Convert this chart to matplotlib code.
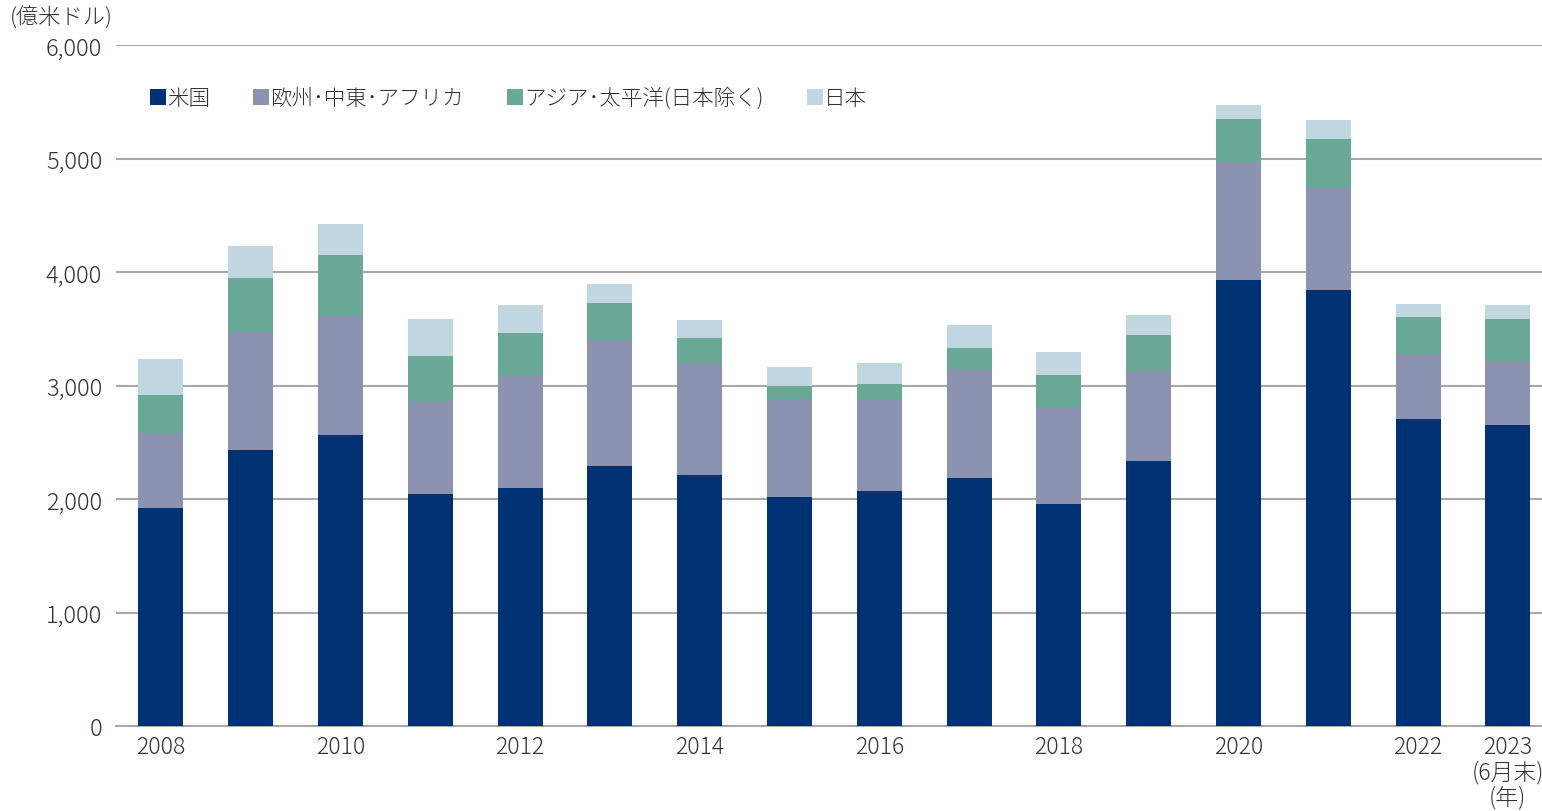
import numpy as np
import matplotlib
matplotlib.use("Agg")
import matplotlib.pyplot as plt
from matplotlib.patches import Patch

plt.rcParams['font.family'] = ['Noto Sans CJK JP', 'DejaVu Sans']
plt.rcParams['font.weight'] = 'light'

years = ["2008", "2009", "2010", "2011", "2012", "2013", "2014", "2015",
         "2016", "2017", "2018", "2019", "2020", "2021", "2022", "2023"]
tick_labels = ["2008", "", "2010", "", "2012", "", "2014", "", "2016", "",
               "2018", "", "2020", "", "2022", "2023\n(6月末)\n(年)"]

# 億米ドル
us = [1921, 2432, 2564, 2044, 2097, 2291, 2211, 2018, 2070, 2185, 1956, 2335,
      3930, 3841, 2705, 2652]
emea = [660, 1039, 1048, 819, 996, 1110, 987, 863, 811, 960, 846, 793,
        1039, 899, 573, 564]
apac = [335, 476, 538, 397, 370, 326, 221, 115, 132, 185, 291, 317,
        379, 432, 326, 370]
japan = [317, 282, 273, 326, 246, 167, 158, 167, 185, 203, 202, 176,
         123, 167, 114, 123]

series = [("米国", us, "#003173"),
          ("欧州･中東･アフリカ", emea, "#8b93b0"),
          ("アジア･太平洋(日本除く)", apac, "#69a995"),
          ("日本", japan, "#c0d7e2")]

fig = plt.figure(figsize=(15.42, 8.12), dpi=100)
ax = fig.add_axes([116 / 1542, 1 - 727 / 812, 1 - 116 / 1542, (727 - 46) / 812])

x = np.arange(len(years))
bottom = np.zeros(len(years))
for name, vals, col in series:
    ax.bar(x, vals, width=0.5, bottom=bottom, color=col, zorder=3)
    bottom += np.array(vals)

ax.set_ylim(0, 6000)
ax.set_xlim(-0.5, 15.38)
ax.set_yticks(np.arange(0, 6001, 1000))
ax.set_yticklabels([f"{v:,}" for v in range(0, 6001, 1000)])
ax.yaxis.grid(True, color="#a8a8a8", linewidth=1.5, zorder=0)
ax.set_xticks(x)
ax.set_xticklabels(tick_labels, linespacing=1.0)
ax.tick_params(axis="both", length=0, labelsize=17, colors="#3a3030")
ax.tick_params(axis="x", labelsize=16.5)
ax.tick_params(axis="y", pad=10)
ax.tick_params(axis="x", pad=6)
for s in ["top", "right", "left"]:
    ax.spines[s].set_visible(False)
ax.spines["bottom"].set_color("#a8a8a8")
ax.spines["bottom"].set_linewidth(1.5)

fig.text(10 / 1542, 1 - 18 / 812, "(億米ドル)", fontsize=16, color="#3a3030",
         va="center", ha="left")

handles = [Patch(facecolor=c, edgecolor="none") for _, _, c in series]
labels = [n for n, _, _ in series]
ax.legend(handles, labels, loc="center left", bbox_to_anchor=(150 / 1542, 1 - 99 / 812),
          bbox_transform=fig.transFigure, ncol=4, frameon=False, fontsize=15.5,
          handlelength=0.75, handleheight=0.75, handletextpad=0.05,
          columnspacing=2.0, labelcolor="#3a3030", borderpad=0, borderaxespad=0)

fig.savefig("out.png", dpi=100)
